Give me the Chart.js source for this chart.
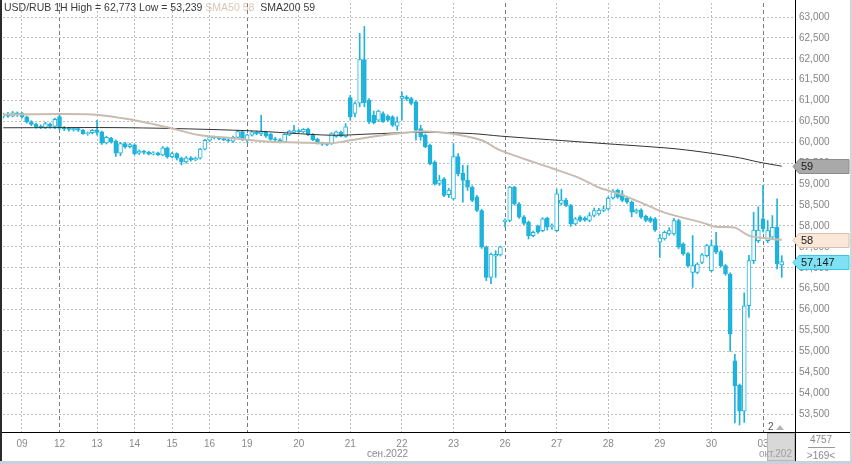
<!DOCTYPE html>
<html>
<head>
<meta charset="utf-8">
<script src="https://cdn.jsdelivr.net/npm/chart.js@4.4.1/dist/chart.umd.min.js"></script>
<style>
    html, body { margin: 0; padding: 0; background: #fff; }
    #wrap { position: relative; width: 852px; height: 464px; }
</style>
</head>
<body>
<div id="wrap"><canvas id="chart" width="852" height="464"></canvas></div>
<script>
/* ---------------- Data (USD/RUB, 1H candles) ---------------- */
const opens = [
    60.62, 60.66, 60.63, 60.71,
    60.70, 60.61, 60.49, 60.43, 60.38, 60.36, 60.44, 60.38,
    60.62, 60.34, 60.32, 60.30, 60.33, 60.29, 60.21, 60.23,
    60.30, 60.25, 59.99, 60.10, 60.03, 59.74, 59.97, 59.90,
    59.94, 59.74, 59.78, 59.76, 59.72, 59.75, 59.70, 59.87,
    59.66, 59.73, 59.62, 59.53, 59.63, 59.58, 59.62, 59.84,
    60.05, 60.13, 60.11, 60.09, 60.06, 60.03, 60.12, 60.26,
    60.06, 60.17, 60.24, 60.20, 60.24, 60.19, 60.08, 60.06, 60.01, 60.18, 60.24,
    60.28, 60.25, 60.31, 60.19, 60.07, 59.98, 59.96, 59.97, 60.14, 60.24, 60.14,
    61.07, 60.69, 60.94, 61.98, 61.01, 60.65, 60.53, 60.69, 60.63, 60.61, 60.39,
    61.05, 61.09, 61.05, 60.97, 60.33, 60.17, 59.93, 59.53, 59.02, 59.13, 58.75,
    58.65, 59.66, 59.26, 59.10, 58.93, 58.70, 58.37, 57.49, 56.77, 57.28, 57.31,
    58.10, 58.13, 58.93, 58.53, 58.22, 58.09, 57.77, 58.00, 57.89, 58.19, 57.98,
    57.89, 58.54, 58.62, 58.49, 58.05, 58.22, 58.19, 58.13, 58.25, 58.29, 58.37,
    58.41, 58.67, 58.85, 58.75, 58.67, 58.57, 58.33, 58.38, 58.23, 58.19, 58.17,
    57.61, 57.69, 57.81, 57.81, 58.13, 57.57, 57.34, 56.89, 56.89, 57.13, 57.29,
    56.93, 57.53, 57.39, 57.05, 56.85, 54.77, 54.19, 53.57, 56.09, 57.17, 57.65,
    58.17, 57.65, 57.73, 57.97, 57.07
];
const highs = [
    60.70, 60.72, 60.74, 60.73,
    60.72, 60.63, 60.52, 60.46, 60.42, 60.48, 60.47, 60.58,
    60.68, 60.38, 60.36, 60.36, 60.36, 60.31, 60.25, 60.31,
    60.53, 60.27, 60.15, 60.12, 60.06, 60.00, 60.00, 59.98,
    59.96, 59.82, 59.81, 59.79, 59.78, 59.77, 59.90, 59.89,
    59.76, 59.75, 59.65, 59.66, 59.66, 59.65, 59.86, 60.07,
    60.15, 60.15, 60.13, 60.11, 60.09, 60.15, 60.29, 60.28,
    60.20, 60.27, 60.27, 60.65, 60.27, 60.22, 60.12, 60.09, 60.21, 60.29, 60.41,
    60.31, 60.33, 60.34, 60.21, 60.10, 60.01, 59.99, 60.23, 60.27, 60.27, 60.45,
    61.13, 60.97, 62.61, 62.773, 61.05, 60.75, 60.77, 60.73, 60.66, 60.64, 60.61,
    61.21, 61.12, 61.08, 61.00, 60.41, 60.20, 59.96, 59.56, 59.21, 59.16, 58.90,
    59.97, 59.73, 59.45, 59.45, 58.96, 58.73, 58.40, 57.52, 57.35, 57.41, 57.52,
    58.17, 58.95, 58.95, 58.56, 58.25, 58.12, 57.88, 58.02, 58.20, 58.21, 58.05,
    58.88, 58.88, 58.66, 58.52, 58.20, 58.25, 58.22, 58.32, 58.43, 58.42, 58.47,
    58.70, 58.87, 58.88, 58.85, 58.70, 58.60, 58.41, 58.41, 58.26, 58.22, 58.20,
    57.80, 57.88, 57.96, 58.18, 58.16, 57.60, 57.37, 57.77, 57.12, 57.34, 57.56,
    57.66, 57.85, 57.42, 57.08, 56.88, 54.93, 54.22, 56.40, 57.30, 58.33, 58.46,
    58.97, 58.13, 58.25, 58.65, 57.29
];
const lows = [
    60.58, 60.60, 60.61, 60.62,
    60.58, 60.46, 60.40, 60.34, 60.33, 60.33, 60.34, 60.33,
    60.30, 60.28, 60.27, 60.27, 60.26, 60.19, 60.17, 60.20,
    60.17, 59.95, 59.96, 59.98, 59.66, 59.68, 59.86, 59.87,
    59.70, 59.71, 59.72, 59.70, 59.70, 59.68, 59.68, 59.62,
    59.63, 59.58, 59.46, 59.50, 59.55, 59.56, 59.60, 59.82,
    60.02, 60.08, 60.06, 60.04, 60.01, 60.00, 60.10, 60.04,
    60.00, 60.15, 60.18, 60.16, 60.12, 60.05, 60.03, 59.99, 59.99, 60.16, 60.21,
    60.22, 60.23, 60.16, 60.04, 59.96, 59.93, 59.92, 59.95, 60.12, 60.13, 60.12,
    60.53, 60.61, 60.85, 60.85, 60.45, 60.44, 60.50, 60.48, 60.50, 60.38, 60.29,
    60.53, 61.00, 60.90, 60.05, 60.05, 59.87, 59.46, 58.98, 58.97, 58.70, 58.68,
    58.62, 59.20, 58.57, 58.85, 58.58, 58.34, 57.46, 56.69, 56.62, 56.77, 57.28,
    57.98, 58.10, 58.50, 58.18, 58.03, 57.69, 57.74, 57.82, 57.86, 57.90, 57.92,
    57.86, 58.50, 58.46, 57.99, 58.02, 58.10, 58.11, 58.10, 58.22, 58.26, 58.34,
    58.38, 58.64, 58.66, 58.58, 58.54, 58.22, 58.30, 58.18, 58.10, 58.08, 57.87,
    57.25, 57.66, 57.78, 57.78, 57.46, 57.30, 57.02, 56.53, 56.86, 57.10, 57.26,
    56.90, 57.34, 57.02, 56.82, 55.00, 53.29, 53.239, 53.30, 55.81, 57.10, 57.60,
    57.85, 57.60, 57.70, 56.97, 56.77
];
const closes = [
    60.66, 60.63, 60.71, 60.68,
    60.61, 60.49, 60.43, 60.37, 60.36, 60.45, 60.38, 60.55,
    60.34, 60.32, 60.31, 60.34, 60.29, 60.21, 60.23, 60.29,
    60.24, 59.98, 60.12, 60.01, 59.74, 59.97, 59.89, 59.95,
    59.73, 59.79, 59.76, 59.72, 59.75, 59.70, 59.87, 59.66,
    59.73, 59.62, 59.53, 59.63, 59.58, 59.62, 59.84, 60.05,
    60.13, 60.11, 60.09, 60.06, 60.04, 60.12, 60.26, 60.07,
    60.18, 60.25, 60.21, 60.25, 60.15, 60.07, 60.06, 60.02, 60.19, 60.27, 60.28,
    60.25, 60.31, 60.18, 60.06, 59.98, 59.96, 59.95, 60.21, 60.25, 60.15, 60.37,
    60.61, 60.93, 61.98, 60.95, 60.49, 60.47, 60.75, 60.49, 60.53, 60.41, 60.49,
    61.10, 61.04, 60.93, 60.29, 60.13, 59.90, 59.49, 59.01, 59.10, 58.73, 58.86,
    59.66, 59.25, 59.09, 58.93, 58.61, 58.37, 57.49, 56.77, 57.33, 57.32, 57.50,
    58.14, 58.93, 58.53, 58.21, 58.06, 57.77, 57.85, 57.85, 58.17, 57.97, 58.01,
    58.77, 58.62, 58.49, 58.05, 58.17, 58.13, 58.14, 58.25, 58.37, 58.38, 58.41,
    58.67, 58.83, 58.69, 58.61, 58.57, 58.33, 58.38, 58.21, 58.13, 58.11, 57.90,
    57.71, 57.85, 57.89, 58.13, 57.49, 57.33, 57.05, 57.05, 57.09, 57.31, 57.53,
    57.53, 57.37, 57.05, 56.85, 55.41, 54.17, 53.57, 56.09, 57.17, 57.90, 57.90,
    57.93, 57.89, 57.97, 57.09, 57.147
];

// moving averages, read at a few candle indices
const sma50Idx = [0, 19, 28, 35, 42, 49, 56, 63, 70, 74, 81, 89, 95, 102, 106, 117, 123, 127, 131, 136, 141, 149, 152, 156, 159, 163, 166];
const sma50Val = [60.67, 60.67, 60.53, 60.36, 60.17, 60.10, 60.02, 60.00, 59.98, 60.05, 60.17, 60.26, 60.22, 60.05, 59.81, 59.38, 59.14, 58.92, 58.78, 58.56, 58.32, 58.08, 57.98, 57.96, 57.77, 57.70, 57.67];
const sma200Idx = [0, 27, 52, 70, 78, 89, 100, 106, 127, 142, 149, 157, 161, 166];
const sma200Val = [60.35, 60.35, 60.28, 60.17, 60.20, 60.24, 60.21, 60.15, 59.98, 59.86, 59.77, 59.63, 59.53, 59.43];

// axis ticks
const dayIdx = [4, 12, 20, 28, 36, 44, 52, 63, 74, 85, 96, 107, 118, 129, 140, 151, 162];
const dayLabels = ["09", "12", "13", "14", "15", "16", "19", "20", "21", "22", "23", "26", "27", "28", "29", "30", "03"];
const weekIdx = [12, 52, 107, 162];
const yTicks = [53.5, 54, 54.5, 55, 55.5, 56, 56.5, 57, 57.5, 58, 58.5, 59, 59.5, 60, 60.5, 61, 61.5, 62, 62.5, 63];

/* ---------------- Style ---------------- */
const CYAN = "#1fb3dc";
const FONT = "'Liberation Sans', Arial, sans-serif";
Chart.defaults.font.family = FONT;
Chart.defaults.font.size = 10;

const fmt = v => v.toFixed(3).replace(".", ",");

/* ---------------- Extras: header, price tags, frame ---------------- */
const extras = {
    id: "extras",
    afterDraw(chart) {
        const { ctx } = chart;
        const ys = chart.scales.y;
        ctx.save();

        // frame
        ctx.fillStyle = "#000";
        ctx.fillRect(795, 0, 1, 464);
        ctx.fillRect(0, 432, 852, 1);
        ctx.fillStyle = "#2b2b2b";
        ctx.fillRect(0, 0, 2, 461);
        ctx.fillStyle = "#c8d1dc";
        ctx.fillRect(0, 461, 852, 3);
        ctx.fillStyle = "#d4d4d4";
        ctx.fillRect(850, 0, 2, 461);

        // header
        const hi = Math.max(...highs), lo = Math.min(...lows);
        const s50 = sma50Val[sma50Val.length - 1], s200 = sma200Val[sma200Val.length - 1];
        ctx.font = "10.5px " + FONT;
        ctx.textBaseline = "middle";
        let x = 4;
        [
            [`USD/RUB 1H High = ${fmt(hi)} Low = ${fmt(lo)} `, "#3a3a3a"],
            [`SMA50 ${Math.round(s50)}  `, "#d9c6b6"],
            [`SMA200 ${Math.round(s200)}`, "#3a3a3a"]
        ].forEach(([t, c]) => {
            ctx.fillStyle = c;
            ctx.fillText(t, x, 8);
            x += ctx.measureText(t).width;
        });

        // price tags on the right axis
        const tag = (v, text, fill, stroke) => {
            const py = Math.round(ys.getPixelForValue(v)) + 0.5;
            ctx.beginPath();
            ctx.moveTo(793, py);
            ctx.lineTo(799, py - 7);
            ctx.lineTo(849, py - 7);
            ctx.lineTo(849, py + 7);
            ctx.lineTo(799, py + 7);
            ctx.closePath();
            ctx.fillStyle = fill;
            ctx.fill();
            ctx.strokeStyle = stroke;
            ctx.lineWidth = 1;
            ctx.stroke();
            ctx.fillStyle = "#1a1a1a";
            ctx.font = "11px " + FONT;
            ctx.textAlign = "left";
            ctx.fillText(text, 801, py + 0.5);
        };
        tag(s200, String(Math.round(s200)), "#a9a9a9", "#8c8c8c");
        tag(s50, String(Math.round(s50)), "#fbe7d8", "#d8c0ac");
        tag(closes[closes.length - 1], fmt(closes[closes.length - 1]), "#7fe1f4", "#3cc6e4");

        // month captions
        ctx.font = "10px " + FONT;
        ctx.fillStyle = "#8a8a8a";
        ctx.textAlign = "right";
        ctx.fillText("сен.2022", 408, 454);

        ctx.fillStyle = "#d8d8d8";
        ctx.fillRect(767, 433, 28, 28);
        ctx.strokeStyle = "#b8b8b8";
        ctx.strokeRect(767.5, 433.5, 27, 27);
        ctx.fillStyle = "#a0a0a0";
        ctx.textAlign = "left";
        ctx.fillText("окт.202", 759, 454);

        // scroll marker
        ctx.fillStyle = "#555";
        ctx.fillText("2", 768, 427);
        ctx.fillStyle = "#b5b5b5";
        ctx.beginPath();
        ctx.moveTo(776, 430); ctx.lineTo(780, 425); ctx.lineTo(784, 430);
        ctx.closePath();
        ctx.fill();

        // bottom right counter
        ctx.fillStyle = "#8a8a8a";
        ctx.textAlign = "center";
        ctx.fillText("4757", 821, 440);
        ctx.fillText(">169<", 821, 456);
        ctx.fillStyle = "#9a9a9a";
        ctx.fillRect(808, 447, 27, 1);

        ctx.restore();
    }
};

/* ---------------- Chart ---------------- */
const idx = closes.map((_, i) => i);
const isUp = i => closes[i] >= opens[i];

new Chart(document.getElementById("chart"), {
    type: "bar",
    data: {
        datasets: [
            {
                type: "line",
                data: sma50Idx.map((x, k) => ({ x, y: sma50Val[k] })),
                borderColor: "#c8bcb0",
                borderWidth: 2,
                pointRadius: 0,
                tension: 0.3,
                order: 0
            },
            {
                type: "line",
                data: sma200Idx.map((x, k) => ({ x, y: sma200Val[k] })),
                borderColor: "#333",
                borderWidth: 1,
                pointRadius: 0,
                tension: 0.3,
                order: 0
            },
            {
                data: idx.map(i => ({ x: i, y: [opens[i], closes[i]] })),
                backgroundColor: ctx => isUp(ctx.dataIndex) ? "#fff" : CYAN,
                borderColor: CYAN,
                borderWidth: 1,
                borderSkipped: false,
                barThickness: 4,
                minBarLength: 1,
                grouped: false,
                order: 1
            },
            {
                data: idx.map(i => ({ x: i, y: [lows[i], highs[i]] })),
                backgroundColor: CYAN,
                borderWidth: 0,
                barThickness: 1,
                grouped: false,
                order: 2
            }
        ]
    },
    options: {
        responsive: false,
        animation: false,
        layout: { padding: { left: 3, top: 3, right: 0, bottom: 0 } },
        plugins: { legend: { display: false }, tooltip: { enabled: false } },
        scales: {
            x: {
                type: "linear",
                min: -0.05,
                max: 168.82,
                offset: false,
                grid: {
                    offset: false,
                    color: c => weekIdx.includes(c.tick && c.tick.value) ? "rgba(0,0,0,0)" : "#bdbdbd",
                    drawTicks: false
                },
                border: { color: "#000", width: 1, dash: [2, 2] },
                ticks: {
                    color: "#8a8a8a",
                    padding: 6,
                    autoSkip: false,
                    maxRotation: 0,
                    callback: v => dayLabels[dayIdx.indexOf(v)]
                },
                afterBuildTicks: s => { s.ticks = dayIdx.map(v => ({ value: v })); },
                afterFit: s => { s.height = 32; s.paddingLeft = 0; s.paddingRight = 0; }
            },
            weeks: {
                type: "linear",
                position: "top",
                min: -0.05,
                max: 168.82,
                offset: false,
                grid: { offset: false, color: "#7a7a7a", drawTicks: false },
                border: { display: false, dash: [4, 3] },
                ticks: { display: false },
                afterBuildTicks: s => { s.ticks = weekIdx.map(v => ({ value: v })); },
                afterFit: s => { s.height = 0; s.paddingLeft = 0; s.paddingRight = 0; }
            },
            y: {
                position: "right",
                min: 53.07,
                max: 63.335,
                grid: { color: "#bdbdbd", drawTicks: false },
                border: { color: "#000", width: 1, dash: [2, 2] },
                ticks: {
                    color: "#858585",
                    padding: 4,
                    autoSkip: false,
                    callback: v => fmt(v)
                },
                afterBuildTicks: s => { s.ticks = yTicks.map(v => ({ value: v })); },
                afterFit: s => { s.width = 57; s.paddingTop = 0; s.paddingBottom = 0; }
            }
        }
    },
    plugins: [extras]
});
</script>
</body>
</html>
